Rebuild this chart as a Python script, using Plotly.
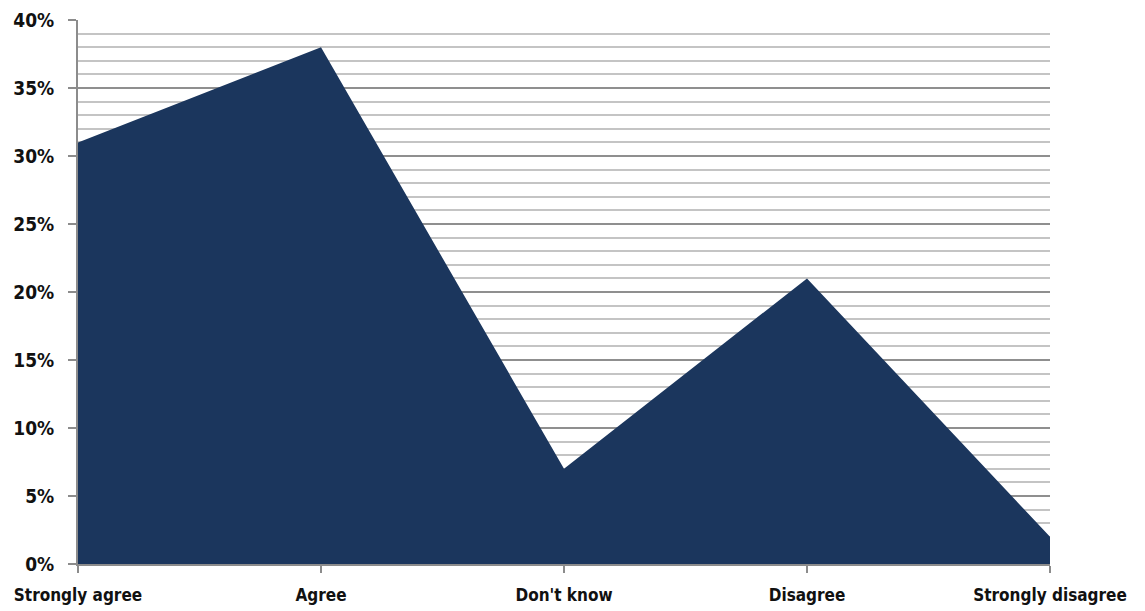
import plotly.graph_objects as go

categories = ["Strongly agree", "Agree", "Don't know", "Disagree", "Strongly disagree"]
shares = [31, 38, 7, 21, 2]
y_ticks = [0, 5, 10, 15, 20, 25, 30, 35, 40]
y_labels = [f"{v}%" for v in y_ticks]

FONT = "DejaVu Sans Condensed"
X_TEXT = dict(family=FONT, size=17, color="#111111", weight="bold")
Y_TEXT = dict(family=FONT, size=19, color="#111111", weight="bold")
AXIS_GREY = "#8c8c8c"

fig = go.Figure()
fig.add_trace(go.Scatter(
    x=list(range(len(categories))),
    y=shares,
    mode="lines",
    fill="tozeroy",
    fillcolor="#1b365d",
    line=dict(color="#1b365d", width=0),
    hoverinfo="skip",
))

fig.update_layout(
    width=1145,
    height=611,
    margin=dict(l=78, r=95, t=20, b=47),
    paper_bgcolor="white",
    plot_bgcolor="white",
    showlegend=False,
    font=X_TEXT,
    xaxis=dict(
        range=[0, len(categories) - 1],
        tickmode="array",
        tickvals=list(range(len(categories))),
        ticktext=categories,
        automargin=False,
        showgrid=False,
        zeroline=False,
        showline=True,
        linecolor=AXIS_GREY,
        linewidth=2,
        ticks="outside",
        ticklen=7,
        tickwidth=2,
        tickcolor=AXIS_GREY,
        ticklabelstandoff=8,
        tickfont=X_TEXT,
    ),
    yaxis=dict(
        range=[0, 40],
        tickmode="array",
        tickvals=y_ticks,
        ticktext=y_labels,
        automargin=False,
        showgrid=True,
        gridcolor="#8f8f8f",
        gridwidth=1.5,
        minor=dict(dtick=1, showgrid=True, gridcolor="#c4c4c4", gridwidth=1.5),
        zeroline=False,
        showline=True,
        linecolor=AXIS_GREY,
        linewidth=2,
        ticks="outside",
        ticklen=8,
        tickwidth=2,
        tickcolor=AXIS_GREY,
        ticklabelstandoff=10,
        tickfont=Y_TEXT,
    ),
)

fig.write_html("out.html")
